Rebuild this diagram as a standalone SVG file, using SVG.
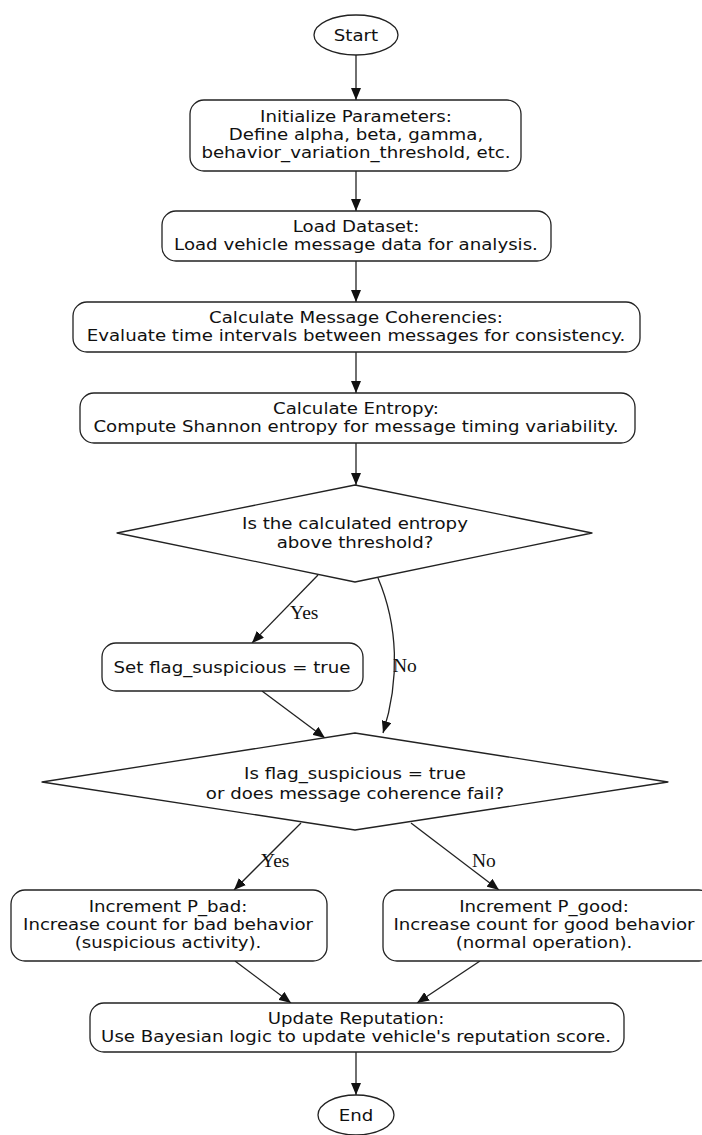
<svg xmlns="http://www.w3.org/2000/svg" width="702" height="1135" viewBox="0 0 702 1135">
<style>
.n{fill:#fff;stroke:#222;stroke-width:1.3}
.t{font-family:"DejaVu Sans",sans-serif;font-size:15.4px;fill:#111;text-anchor:middle}
.l{font-family:"Liberation Serif",serif;font-size:19.5px;fill:#111}
.e{fill:none;stroke:#222;stroke-width:1.3;marker-end:url(#ah)}
</style>
<defs>
<marker id="ah" markerWidth="13" markerHeight="10" refX="12" refY="5" orient="auto" markerUnits="userSpaceOnUse">
<path d="M0,0 L12,5 L0,10 Z" fill="#111"/>
</marker>
</defs>
<rect width="702" height="1135" fill="#fff"/>
<g id="edges">
<path class="e" d="M356,55 L356,100"/>
<path class="e" d="M356,170 L356,211"/>
<path class="e" d="M356,261 L356,302"/>
<path class="e" d="M356,352 L356,393"/>
<path class="e" d="M356,443 L356,485"/>
<path class="e" d="M318,575 L252,643"/>
<path class="e" d="M378,578 C398,625 400,680 383,733"/>
<path class="e" d="M262,691 L325,738"/>
<path class="e" d="M301,823 L234,890"/>
<path class="e" d="M411,823 L499,890"/>
<path class="e" d="M235,961 L291,1003"/>
<path class="e" d="M480,961 L417,1003"/>
<path class="e" d="M356,1052 L356,1095"/>
<text class="l" x="290" y="619">Yes</text>
<text class="l" x="393" y="672">No</text>
<text class="l" x="261" y="867">Yes</text>
<text class="l" x="472" y="867">No</text>
</g>
<g id="start">
<ellipse class="n" cx="356" cy="35" rx="42" ry="20"/>
<g transform="translate(356,0) scale(1.18,1)"><text class="t" x="0" y="41">Start</text></g>
</g>
<g id="init">
<rect class="n" x="190" y="100" width="331" height="71" rx="14"/>
<g transform="translate(356,0) scale(1.18,1)">
<text class="t" x="0" y="122">Initialize Parameters:</text>
<text class="t" x="0" y="140">Define alpha, beta, gamma,</text>
<text class="t" x="0" y="158">behavior_variation_threshold, etc.</text>
</g>
</g>
<g id="load">
<rect class="n" x="162" y="211" width="389" height="50" rx="14"/>
<g transform="translate(356,0) scale(1.18,1)">
<text class="t" x="0" y="232">Load Dataset:</text>
<text class="t" x="0" y="250">Load vehicle message data for analysis.</text>
</g>
</g>
<g id="coh">
<rect class="n" x="73" y="302" width="567" height="50" rx="14"/>
<g transform="translate(356,0) scale(1.18,1)">
<text class="t" x="0" y="323">Calculate Message Coherencies:</text>
<text class="t" x="0" y="341">Evaluate time intervals between messages for consistency.</text>
</g>
</g>
<g id="ent">
<rect class="n" x="80" y="393" width="555" height="50" rx="14"/>
<g transform="translate(356,0) scale(1.18,1)">
<text class="t" x="0" y="414">Calculate Entropy:</text>
<text class="t" x="0" y="432">Compute Shannon entropy for message timing variability.</text>
</g>
</g>
<g id="d1">
<polygon class="n" stroke-linejoin="round" points="355,485 592,533 355,582 117,533"/>
<g transform="translate(355,0) scale(1.18,1)">
<text class="t" x="0" y="529">Is the calculated entropy</text>
<text class="t" x="0" y="548">above threshold?</text>
</g>
</g>
<g id="setflag">
<rect class="n" x="102" y="643" width="261" height="48" rx="14"/>
<g transform="translate(232,0) scale(1.18,1)"><text class="t" x="0" y="673">Set flag_suspicious = true</text></g>
</g>
<g id="d2">
<polygon class="n" stroke-linejoin="round" points="355,733 668,782 355,830 42,782"/>
<g transform="translate(355,0) scale(1.18,1)">
<text class="t" x="0" y="779">Is flag_suspicious = true</text>
<text class="t" x="0" y="799">or does message coherence fail?</text>
</g>
</g>
<g id="pbad">
<rect class="n" x="11" y="890" width="316" height="71" rx="14"/>
<g transform="translate(168,0) scale(1.18,1)">
<text class="t" x="0" y="912">Increment P_bad:</text>
<text class="t" x="0" y="930">Increase count for bad behavior</text>
<text class="t" x="0" y="948">(suspicious activity).</text>
</g>
</g>
<g id="pgood">
<rect class="n" x="383" y="890" width="330" height="71" rx="14"/>
<g transform="translate(544,0) scale(1.18,1)">
<text class="t" x="0" y="912">Increment P_good:</text>
<text class="t" x="0" y="930">Increase count for good behavior</text>
<text class="t" x="0" y="948">(normal operation).</text>
</g>
</g>
<g id="update">
<rect class="n" x="90" y="1003" width="534" height="49" rx="14"/>
<g transform="translate(356,0) scale(1.18,1)">
<text class="t" x="0" y="1024">Update Reputation:</text>
<text class="t" x="0" y="1042">Use Bayesian logic to update vehicle's reputation score.</text>
</g>
</g>
<g id="end">
<ellipse class="n" cx="356" cy="1115" rx="38" ry="20"/>
<g transform="translate(356,0) scale(1.18,1)"><text class="t" x="0" y="1121">End</text></g>
</g>
</svg>
